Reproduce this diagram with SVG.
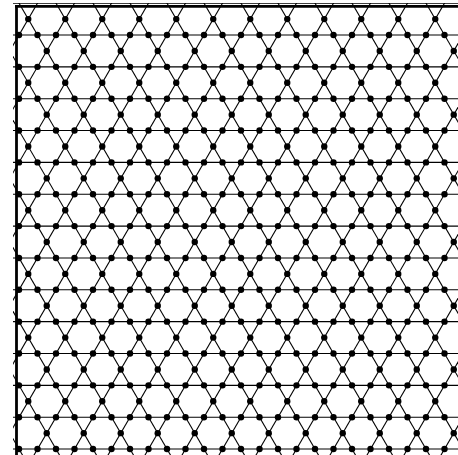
<svg xmlns="http://www.w3.org/2000/svg" xmlns:xlink="http://www.w3.org/1999/xlink" width="458" height="455" viewBox="0 0 458 455">
<style>
.spine{stroke:#000;stroke-width:2.8;fill:none}
</style>
<defs>
<clipPath id="plot"><rect x="13" y="3" width="445" height="452"/></clipPath>
<line id="bs" x1="-37.755" y1="-30" x2="258.477" y2="480"/>
<line id="fs" x1="37.755" y1="-30" x2="-258.477" y2="480"/>
<line id="hz" x1="0" y1="0" x2="458" y2="0"/>
<g id="row">
<circle cx="19" r="3.2"/><circle cx="37.5" r="3.2"/><circle cx="56" r="3.2"/><circle cx="74.5" r="3.2"/><circle cx="93" r="3.2"/><circle cx="111.5" r="3.2"/><circle cx="130" r="3.2"/><circle cx="148.5" r="3.2"/><circle cx="167" r="3.2"/><circle cx="185.5" r="3.2"/><circle cx="204" r="3.2"/><circle cx="222.5" r="3.2"/><circle cx="241" r="3.2"/><circle cx="259.5" r="3.2"/><circle cx="278" r="3.2"/><circle cx="296.5" r="3.2"/><circle cx="315" r="3.2"/><circle cx="333.5" r="3.2"/><circle cx="352" r="3.2"/><circle cx="370.5" r="3.2"/><circle cx="389" r="3.2"/><circle cx="407.5" r="3.2"/><circle cx="426" r="3.2"/><circle cx="444.5" r="3.2"/>
</g>
<g id="midA">
<circle cx="28.25" r="3.2"/><circle cx="65.25" r="3.2"/><circle cx="102.25" r="3.2"/><circle cx="139.25" r="3.2"/><circle cx="176.25" r="3.2"/><circle cx="213.25" r="3.2"/><circle cx="250.25" r="3.2"/><circle cx="287.25" r="3.2"/><circle cx="324.25" r="3.2"/><circle cx="361.25" r="3.2"/><circle cx="398.25" r="3.2"/><circle cx="435.25" r="3.2"/>
</g>
<g id="midB">
<circle cx="46.75" r="3.2"/><circle cx="83.75" r="3.2"/><circle cx="120.75" r="3.2"/><circle cx="157.75" r="3.2"/><circle cx="194.75" r="3.2"/><circle cx="231.75" r="3.2"/><circle cx="268.75" r="3.2"/><circle cx="305.75" r="3.2"/><circle cx="342.75" r="3.2"/><circle cx="379.75" r="3.2"/><circle cx="416.75" r="3.2"/><circle cx="453.75" r="3.2"/>
</g>
</defs>
<rect width="458" height="455" fill="#fff"/>
<g id="lattice" clip-path="url(#plot)">
<g id="connectors" stroke="#000" stroke-width="1.1" fill="none">
<g id="horizontal">
<use xlink:href="#hz" y="3.15"/><use xlink:href="#hz" y="35"/><use xlink:href="#hz" y="66.85"/><use xlink:href="#hz" y="98.7"/><use xlink:href="#hz" y="130.55"/><use xlink:href="#hz" y="162.4"/><use xlink:href="#hz" y="194.25"/><use xlink:href="#hz" y="226.1"/><use xlink:href="#hz" y="257.95"/><use xlink:href="#hz" y="289.8"/><use xlink:href="#hz" y="321.65"/><use xlink:href="#hz" y="353.5"/><use xlink:href="#hz" y="385.35"/><use xlink:href="#hz" y="417.2"/><use xlink:href="#hz" y="449.05"/>
</g>
<g id="diag-down-right">
<use xlink:href="#bs" x="-221.5"/><use xlink:href="#bs" x="-184.5"/><use xlink:href="#bs" x="-147.5"/><use xlink:href="#bs" x="-110.5"/><use xlink:href="#bs" x="-73.5"/><use xlink:href="#bs" x="-36.5"/><use xlink:href="#bs" x="0.5"/><use xlink:href="#bs" x="37.5"/><use xlink:href="#bs" x="74.5"/><use xlink:href="#bs" x="111.5"/><use xlink:href="#bs" x="148.5"/><use xlink:href="#bs" x="185.5"/><use xlink:href="#bs" x="222.5"/><use xlink:href="#bs" x="259.5"/><use xlink:href="#bs" x="296.5"/><use xlink:href="#bs" x="333.5"/><use xlink:href="#bs" x="370.5"/><use xlink:href="#bs" x="407.5"/><use xlink:href="#bs" x="444.5"/>
</g>
<g id="diag-down-left">
<use xlink:href="#fs" x="19"/><use xlink:href="#fs" x="56"/><use xlink:href="#fs" x="93"/><use xlink:href="#fs" x="130"/><use xlink:href="#fs" x="167"/><use xlink:href="#fs" x="204"/><use xlink:href="#fs" x="241"/><use xlink:href="#fs" x="278"/><use xlink:href="#fs" x="315"/><use xlink:href="#fs" x="352"/><use xlink:href="#fs" x="389"/><use xlink:href="#fs" x="426"/><use xlink:href="#fs" x="463"/><use xlink:href="#fs" x="500"/><use xlink:href="#fs" x="537"/><use xlink:href="#fs" x="574"/><use xlink:href="#fs" x="611"/><use xlink:href="#fs" x="648"/><use xlink:href="#fs" x="685"/>
</g>
</g>
<g id="nodes" fill="#000">
<use xlink:href="#row" y="35"/><use xlink:href="#row" y="66.85"/><use xlink:href="#row" y="98.7"/><use xlink:href="#row" y="130.55"/><use xlink:href="#row" y="162.4"/><use xlink:href="#row" y="194.25"/><use xlink:href="#row" y="226.1"/><use xlink:href="#row" y="257.95"/><use xlink:href="#row" y="289.8"/><use xlink:href="#row" y="321.65"/><use xlink:href="#row" y="353.5"/><use xlink:href="#row" y="385.35"/><use xlink:href="#row" y="417.2"/><use xlink:href="#row" y="449.05"/>
<use xlink:href="#midA" y="19.075"/><use xlink:href="#midB" y="50.925"/><use xlink:href="#midA" y="82.775"/><use xlink:href="#midB" y="114.625"/><use xlink:href="#midA" y="146.475"/><use xlink:href="#midB" y="178.325"/><use xlink:href="#midA" y="210.175"/><use xlink:href="#midB" y="242.025"/><use xlink:href="#midA" y="273.875"/><use xlink:href="#midB" y="305.725"/><use xlink:href="#midA" y="337.575"/><use xlink:href="#midB" y="369.425"/><use xlink:href="#midA" y="401.275"/><use xlink:href="#midB" y="433.125"/>
</g>
</g>
<g id="axes">
<line class="spine" x1="15" y1="6.3" x2="458" y2="6.3"/>
<line class="spine" x1="16.5" y1="4.9" x2="16.5" y2="455"/>
</g>
</svg>
